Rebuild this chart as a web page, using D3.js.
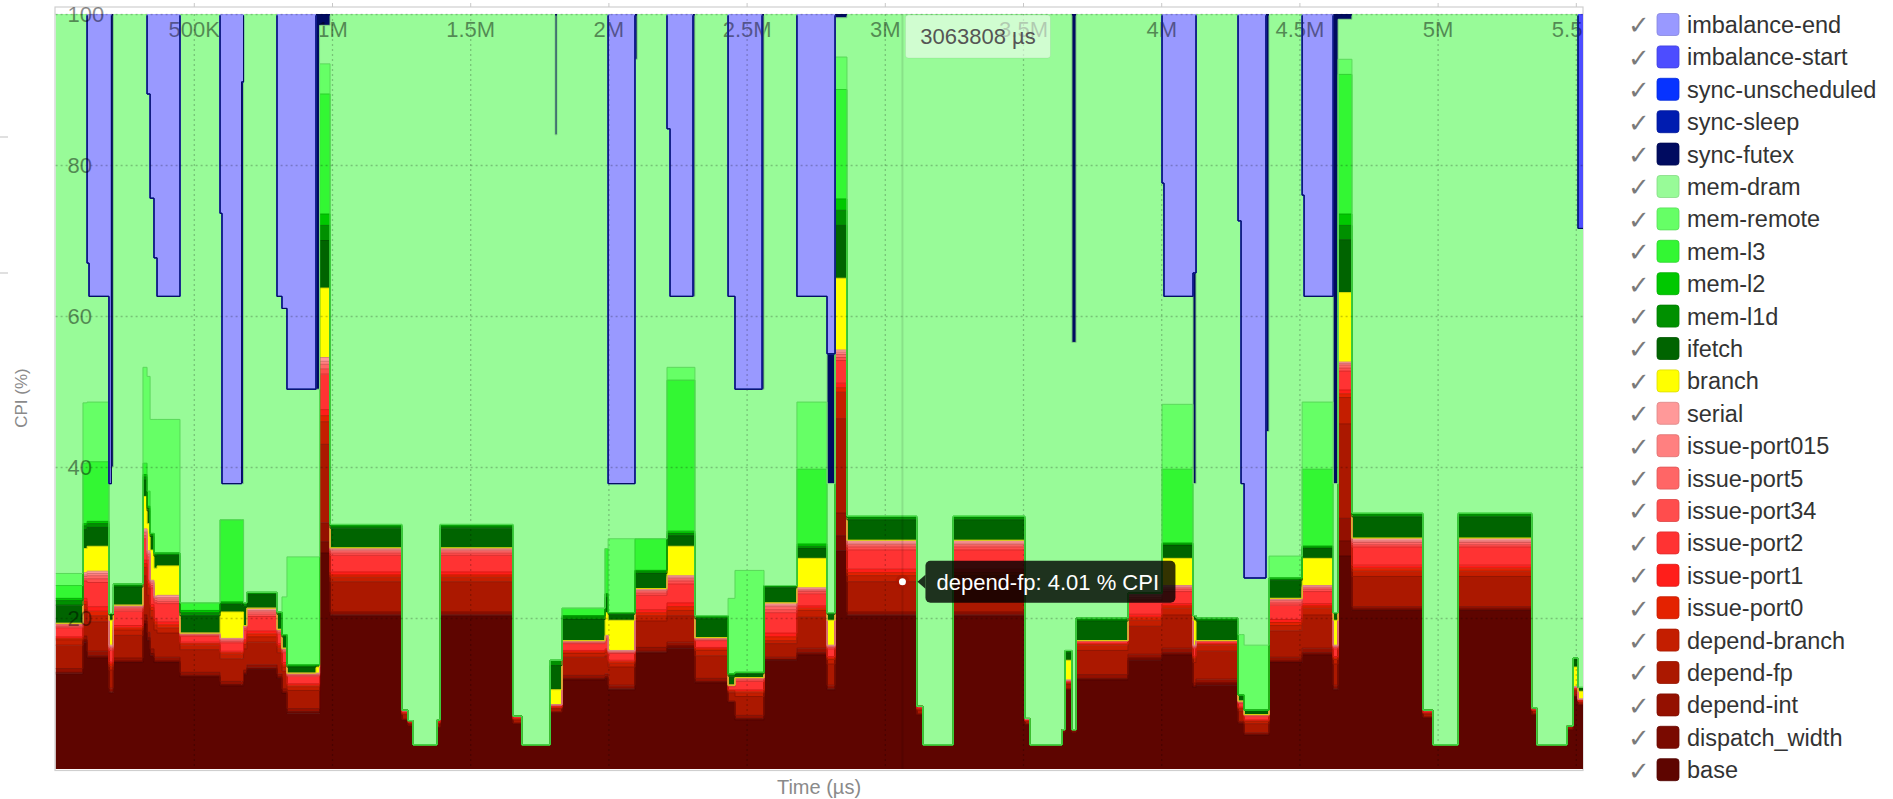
<!DOCTYPE html>
<html>
<head>
<meta charset="utf-8">
<script src="https://cdn.jsdelivr.net/npm/d3@7"></script>
<style>
  body { margin: 0; background: #fff; }
  svg { display: block; font-family: "Liberation Sans", Arial, sans-serif; }
</style>
</head>
<body>
<svg id="chart" width="1893" height="799"></svg>
<script>
// phase start times (K µs) of the sampled run, last phase ends at END_K
const segStartK = [0, 99, 114, 121, 193, 202, 209, 316, 331, 342,
  356, 367, 450, 595, 602, 673, 680, 692, 801, 819,
  837, 942, 955, 993, 1253, 1275, 1293, 1380, 1391, 1655,
  1687, 1789, 1807, 1814, 1832, 1988, 1999, 2096, 2104, 2212,
  2223, 2306, 2313, 2433, 2458, 2556, 2563, 2682, 2791, 2820,
  2863, 3116, 3138, 3247, 3507, 3525, 3641, 3652, 3677, 3692,
  3880, 4003, 4010, 4115, 4126, 4278, 4289, 4300, 4379, 4390,
  4510, 4517, 4622, 4640, 4690, 4947, 4983, 5074, 5341, 5359,
  5468, 5490, 5508];
const END_K = 5526;

// CPI stack components (% of CPI) per phase
const base = [12.6, 16.8, 14.7, 14.7, 10.1, 10.1, 14.1, 19.2, 17, 15,
  14.1, 14.1, 12.2, 11, 11, 11, 12.5, 13.2, 12, 10,
  7.4, 7.4, 28.6, 20.3, 6.5, 5.8, 3.2, 5.5, 20.3, 6,
  3.2, 7.5, 7.5, 7.5, 11.8, 12, 10.5, 15.4, 15.4, 16,
  16, 16, 11.4, 8.8, 6.5, 6.5, 14.4, 15.1, 10.5, 28.9,
  20.3, 7.2, 3.2, 20.3, 5.9, 3.2, 4.9, 10.5, 4.9, 11.8,
  14.4, 15.1, 15.1, 10.8, 11.1, 6, 6, 4.5, 4.5, 14.1,
  15.1, 15.1, 10.5, 28.2, 21, 6.8, 3.2, 21, 7.2, 3.2,
  5.2, 9.6, 8.5];
const dispatchWidth = [.2, .3, .3, .3, .2, .2, .2, .4, .4, .3,
  .2, .2, .2, .2, .2, .2, .2, .2, .2, .2,
  .2, .2, 1.5, .2, 0, 0, 0, 0, .2, 0,
  0, 0, 0, 0, .2, .2, .2, .2, .2, .3,
  .3, .3, .2, .1, .2, .2, .1, .3, .2, 2,
  .2, 0, 0, .2, 0, 0, 0, 0, 0, .2,
  .3, .3, .3, .2, .3, .1, .1, .1, .1, .2,
  .3, .3, .2, 2, .2, 0, 0, .2, 0, 0,
  0, 0, 0];
const dependInt = [.5, .5, .6, .6, .4, .4, .4, .8, .7, .6,
  .5, .5, .4, .4, .4, .4, .4, .4, .4, .4,
  .4, .4, 2.5, .3, .1, 0, 0, .1, .3, .1,
  0, .1, .1, .1, .4, .4, .4, .5, .5, .5,
  .5, .5, .4, .1, .4, .4, .3, .6, .4, 3,
  .3, .1, 0, .3, .1, 0, 0, .1, 0, .5,
  .5, .6, .6, .4, .5, .2, .2, .2, .2, .5,
  .6, .6, .4, 3, .3, .1, 0, .3, .1, 0,
  .1, .1, .1];
const dependFp = [3.1, 3.5, 3.9, 3.9, 2.4, 2.4, 3.0, 5.2, 4.9, 4.2,
  3.6, 3.2, 3.0, 3.0, 3.0, 3.0, 2.8, 3.0, 2.8, 2.4,
  2.4, 2.4, 10.4, 4.0, .6, .3, 0, .4, 4.0, .4,
  0, .4, .4, .4, 2.4, 2.4, 2.4, 3.5, 3.5, 3.5,
  3.5, 3.5, 3.0, 1.1, 2.5, 2.5, 1.8, 4.1, 2.8, 12.5,
  4.01, .5, 0, 4.01, .3, 0, .2, .6, .2, 3.2,
  3.7, 4.4, 4.4, 2.7, 3.7, 1.4, 1.4, 1.2, 1.2, 3.5,
  4.4, 4.4, 2.8, 12.5, 4.0, .4, 0, 4.0, .4, 0,
  .3, .6, .3];
const dependBranch = [.7, .7, .8, .8, .5, .5, .7, 1.1, 1.0, .9,
  .7, .7, .6, .6, .6, .6, .6, .7, .6, .5,
  .5, .5, 3.0, .6, .1, .1, 0, .1, .6, .1,
  0, .1, .1, .1, .5, .5, .5, .7, .7, .7,
  .7, .7, .7, .2, .5, .5, .4, .9, .6, 3.5,
  .8, .1, 0, .8, .1, 0, .1, .1, .1, .7,
  .8, .9, .9, .5, .8, .3, .3, .3, .3, .7,
  .9, .9, .6, 3.5, .7, .1, 0, .7, .1, 0,
  .1, .1, .1];
const issuePort0 = [.2, .4, .6, .6, .3, .3, .3, .5, .5, .4,
  .4, .4, .2, .2, .2, .2, .3, .4, .3, .3,
  .2, .2, .8, .3, .1, 0, 0, .1, .3, .1,
  0, .1, .1, .1, .2, .2, .2, .4, .4, .5,
  .5, .5, .2, .1, .2, .2, .5, .3, .2, .6,
  .4, .1, 0, .4, 0, 0, 0, .1, 0, .1,
  .4, .3, .3, .2, .1, .1, .1, .1, .1, .4,
  .3, .3, .2, .5, .4, .1, 0, .4, 0, 0,
  0, .1, 0];
const issuePort1 = [.2, .4, .6, .6, .3, .3, .3, .5, .5, .4,
  .4, .4, .2, .2, .2, .2, .3, .4, .3, .3,
  .2, .2, .8, .4, .1, 0, 0, 0, .4, 0,
  0, 0, 0, 0, .2, .2, .2, .4, .4, .5,
  .5, .5, .2, .1, .2, .2, .5, .3, .2, .6,
  .5, 0, 0, .5, 0, 0, 0, .1, 0, .1,
  .4, .3, .3, .2, .1, .1, .1, .1, .1, .4,
  .3, .3, .2, .5, .4, 0, 0, .4, 0, 0,
  0, .1, 0];
const issuePort2 = [1.2, 2.3, 3.2, 3.2, 1.5, 1.5, 1.9, 2.8, 2.7, 2.2,
  2.1, 2.4, .8, 1.1, 1.1, 1.1, 1.3, 1.9, 1.3, 1.3,
  1.0, 1.0, 4.7, 2.2, .2, .2, 0, .2, 2.2, .2,
  0, .2, .2, .2, .9, 1.2, .9, 1.9, 1.9, 2.5,
  2.5, 2.5, .9, .4, 1.1, 1.1, 2.7, 1.6, 1.0, 3.0,
  2.5, .2, 0, 2.5, .2, 0, 0, .2, 0, .3,
  1.9, 1.6, 1.6, 1.0, .3, .5, .5, .5, .5, 1.9,
  1.6, 1.6, 1.0, 2.5, 2.4, .2, 0, 2.4, .2, 0,
  0, .2, .2];
const issuePort34 = [.2, .3, .5, .5, .2, .2, .3, .4, .4, .3,
  .3, .3, .1, .2, .2, .2, .2, .3, .2, .2,
  .1, .1, .7, .3, 0, 0, 0, .1, .3, .1,
  0, .1, .1, .1, .1, .2, .1, .3, .3, .4,
  .4, .4, .1, .1, .2, .2, .4, .3, .2, .4,
  .4, .1, 0, .4, 0, 0, 0, 0, 0, .1,
  .3, .3, .3, .1, .1, .1, .1, .1, .1, .3,
  .3, .3, .2, .4, .3, .1, 0, .3, 0, 0,
  0, 0, 0];
const issuePort5 = [.2, .3, .4, .4, .2, .2, .2, .4, .3, .3,
  .3, .3, .1, .2, .2, .2, .2, .3, .2, .2,
  .1, .1, .6, .3, 0, 0, 0, 0, .3, 0,
  0, 0, 0, 0, .1, .2, .1, .3, .3, .3,
  .3, .3, .1, .1, .2, .2, .4, .2, .1, .4,
  .3, 0, 0, .3, 0, 0, 0, 0, 0, 0,
  .3, .2, .2, .1, 0, .1, .1, .1, .1, .3,
  .2, .2, .1, .4, .3, 0, 0, .3, 0, 0,
  0, 0, 0];
const issuePort015 = [.1, .2, .3, .3, .1, .1, .1, .2, .2, .2,
  .1, .2, .1, .1, .1, .1, .1, .2, .1, .1,
  .1, .1, .4, .2, 0, 0, 0, 0, .2, 0,
  0, 0, 0, 0, .1, .1, .1, .1, .1, .2,
  .2, .2, .1, 0, .1, .1, .2, .1, .1, .3,
  .2, 0, 0, .2, 0, 0, 0, 0, 0, 0,
  .1, .1, .1, .1, 0, 0, 0, 0, 0, .1,
  .1, .1, .1, .2, .2, 0, 0, .2, 0, 0,
  0, 0, 0];
const serial = [.1, .3, .3, .3, .2, .2, .2, .3, .3, .2,
  .2, .3, .1, .1, .1, .1, .1, .3, .1, .1,
  .1, .1, .5, .1, .1, 0, 0, 0, .1, 0,
  0, 0, 0, 0, .1, .1, .1, .2, .2, .2,
  .2, .2, .1, 0, 0, 0, .3, .2, .1, .3,
  .3, 0, 0, .3, .1, 0, 0, .1, 0, 0,
  .2, .2, .2, .1, 0, .1, .1, 0, 0, .2,
  .2, .2, .1, .2, .3, 0, 0, .3, .1, 0,
  0, .1, .1];
const branch = [0, 3.2, 3.3, 3.3, 3.3, 3.3, 0, 4.3, 3.6, 4,
  3.7, 3.9, 0, 3.5, 3.5, 3.5, 0, 0, 0, 0,
  0, .8, 9.2, .1, 0, 0, 0, 0, .1, 0,
  0, 2, 2, 2, 0, 3, 4, 0, 0, 3.9,
  3.9, 3.9, 0, 0, 0, 0, 0, 3.9, 3.3, 9.5,
  .1, 0, 0, .1, 0, 0, 0, 2.6, 0, 0,
  0, 3.6, 3.6, 3.3, 0, 0, 0, 0, 0, 0,
  3.6, 3.6, 3.3, 9.2, .1, 0, 0, .1, 0, 0,
  0, 2.6, 1];
const ifetch = [2.4, 2.5, 2.5, 2.5, .7, .7, 2.4, 2.2, 1.7, 1.8,
  1.6, 1.4, 2.3, 1, 1, 1, 2.5, 1.8, 2, 1.5,
  .8, .3, 6.3, 2.6, 0, 0, 0, 0, 2.6, 0,
  0, 3.2, 3.2, 3.2, 2.8, 2, .8, 2, 2, 1.4,
  1.4, 1.4, 2.5, 1.2, .5, .5, 2, 1.3, .8, 7,
  2.7, 0, 0, 2.7, 0, 0, 0, 1, 0, 2.6,
  0, 1.7, 1.7, .6, 2.6, .8, .8, .6, .6, 2.4,
  1.3, 1.3, 1, 7, 2.8, 0, 0, 2.8, 0, 0,
  0, 1.2, .5];
const memL1d = [.6, .5, .5, .5, .2, .2, .4, .4, .3, .4,
  .4, .3, .4, .3, .3, .3, .5, .3, .3, .3,
  .3, 0, 2, .3, 0, 0, 0, 0, .3, 0,
  0, .7, .7, .7, .5, .5, .2, .4, .4, .3,
  .3, .3, .4, .3, .2, .2, .3, .3, .2, 2,
  .3, 0, 0, .3, 0, 0, 0, .3, 0, .4,
  0, .3, .3, 0, .4, 0, 0, 0, 0, .3,
  .3, .3, 0, 1.9, .3, 0, 0, .3, 0, 0,
  0, 0, 0];
const memL2 = [.3, .3, .3, .3, 0, 0, 0, .3, .3, 0,
  0, 0, .3, 0, 0, 0, 0, 0, 0, 0,
  0, 0, 1.5, .1, 0, 0, 0, 0, .1, 0,
  0, 0, 0, 0, 0, 0, 0, 0, 0, .3,
  .3, .3, 0, 0, 0, 0, 0, .3, 0, 1.5,
  .1, 0, 0, .1, 0, 0, 0, 0, 0, 0,
  0, 0, 0, 0, 0, 0, 0, 0, 0, 0,
  0, 0, 0, 1.5, .1, 0, 0, .1, 0, 0,
  0, 0, 0];
const memL3 = [1.7, 8, 7.9, 7.9, 0, 0, 0, 1.5, 2, 0,
  0, 0, 1, 10.9, 10.9, 10.9, 0, 0, 0, 0,
  0, 0, 15.9, .1, 0, 0, 0, 0, .1, 0,
  0, 0, 0, 0, 1, 6, 0, 4.2, 4.2, 20,
  20, 20, 0, 0, 0, 0, 0, 9.9, 0, 14.5,
  .1, 0, 0, .1, 0, 0, 0, 0, 0, 0,
  0, 9.8, 9.8, 0, 0, 0, 0, 0, 0, 0,
  10.2, 10.2, 0, 18.5, .1, 0, 0, .1, 0, 0,
  0, 0, 0];
const memRemote = [1.6, 8, 7.9, 7.9, 0, 0, 0, 12.7, 15.2, 15.1,
  17.7, 17.7, 0, 0, 0, 0, 0, 0, 0, 5,
  14.3, 14.3, 4, 0, 0, 0, 0, 0, 0, 0,
  0, 0, 0, 0, 0, 0, 9.8, 0, 0, 1.7,
  1.7, 1.7, 0, 10, 13.5, 13.5, 0, 8.9, 0, 4.3,
  0, 0, 0, 0, 0, 0, 0, 0, 0, 0,
  0, 8.6, 8.6, 0, 0, 8, 8, 8.6, 8.6, 2.9,
  8.9, 8.9, 0, 2, 0, 0, 0, 0, 0, 0,
  0, 0, 0];
const memDram = [74.1, 51.5, 18.4, 14, 17.2, 19.4, 75.5, 46.8, 37.4, 29.3,
  21.4, 16.3, 78, 40.6, 4.8, 4.8, 78, 76.6, 41.8, 38.2,
  22.2, 22.2, 5.1, 67.6, 92.2, 93.6, 96.8, 93.5, 67.6, 93,
  96.8, 85.6, 69.6, 85.6, 78.7, 70.8, 7.3, 63.5, 69.5, 31.6,
  9.4, 9.4, 79.7, 40, 24, 24, 75.7, 14, 17.1, 5.2,
  66.49, 91.7, 96.8, 66.49, 93.3, 96.8, 94.8, 84.3, 51.3, 80,
  76.7, 29.3, 14.3, 17.5, 80, 54.8, 20, 8.9, 28.3, 71.8,
  27.4, 14, 17.1, 5.3, 66.1, 92.2, 96.8, 66.1, 91.9, 96.8,
  94.3, 85.3, 60.8];
const syncFutex = [0, 0, 0, 0, 0, 60, 0, 0, 0, 0,
  0, 0, 0, 0, 0, 53.2, 0, 0, 0, 0,
  0, 49.7, 1.5, 0, 0, 0, 0, 0, 0, 0,
  0, 0, 16, 0, 0, 0, 0, 6, 0, 0,
  0, 37.4, 0, 0, 0, 49.7, 0, 0, 17.2, .5,
  0, 0, 0, 0, 0, 0, 0, 0, 43.5, 0,
  0, 0, 0, 27.9, 0, 0, 0, 0, 55.3, 0,
  0, 0, 62.2, .7, 0, 0, 0, 0, 0, 0,
  0, 0, 0];
const syncSleep = [0, 0, 0, 0, 0, 0, 0, 0, 0, 0,
  0, 0, 0, 0, 0, 0, 0, 0, 0, 0,
  0, 0, 0, 0, 0, 0, 0, 0, 0, 0,
  0, 0, 0, 0, 0, 0, 0, 0, 0, 0,
  0, 0, 0, 0, 0, 0, 0, 0, 0, 0,
  0, 0, 0, 0, 0, 0, 0, 0, 0, 0,
  0, 0, 0, 0, 0, 0, 0, 0, 0, 0,
  0, 0, 0, 0, 0, 0, 0, 0, 0, 0,
  0, 0, 0];
const syncUnscheduled = [0, 0, 0, 0, 0, 0, 0, 0, 0, 0,
  0, 0, 0, 0, 0, 0, 0, 0, 0, 0,
  0, 0, 0, 0, 0, 0, 0, 0, 0, 0,
  0, 0, 0, 0, 0, 0, 0, 0, 0, 0,
  0, 0, 0, 0, 0, 0, 0, 0, 0, 0,
  0, 0, 0, 0, 0, 0, 0, 0, 0, 0,
  0, 0, 0, 0, 0, 0, 0, 0, 0, 0,
  0, 0, 0, 0, 0, 0, 0, 0, 0, 0,
  0, 0, 0];
const imbalanceStart = [0, 0, 0, 0, 0, 0, 0, 0, 0, 0,
  0, 0, 0, 0, 0, 0, 0, 0, 0, 0,
  0, 0, 0, 0, 0, 0, 0, 0, 0, 0,
  0, 0, 0, 0, 0, 0, 0, 0, 0, 0,
  0, 0, 0, 0, 0, 0, 0, 0, 0, 0,
  0, 0, 0, 0, 0, 0, 0, 0, 0, 0,
  0, 0, 0, 0, 0, 0, 0, 0, 0, 0,
  0, 0, 0, 0, 0, 0, 0, 0, 0, 0,
  0, 0, 28.4];
const imbalanceEnd = [0, 0, 33, 37.4, 62.2, 0, 0, 0, 10.6, 24.4,
  32.3, 37.4, 0, 26.4, 62.2, 9, 0, 0, 37.4, 39,
  49.7, 0, 0, 0, 0, 0, 0, 0, 0, 0,
  0, 0, 0, 0, 0, 0, 62.2, 0, 0, 15.2,
  37.4, 0, 0, 37.4, 49.7, 0, 0, 37.4, 45, 0,
  0, 0, 0, 0, 0, 0, 0, 0, 0, 0,
  0, 22.4, 37.4, 34.3, 0, 27.4, 62.2, 74.7, 0, 0,
  24, 37.4, 0, 0, 0, 0, 0, 0, 0, 0,
  0, 0, 0];

const xTicks = [500000, 1000000, 1500000, 2000000, 2500000, 3000000,
  3500000, 4000000, 4500000, 5000000, 5500000];
const xTickLabels = ["500K", "1M", "1.5M", "2M", "2.5M", "3M",
  "3.5M", "4M", "4.5M", "5M", "5.5M"];
const yTicks = [20, 40, 60, 80, 100];
const HOVER_T = 3063808;
const HOVER_KEY = "depend-fp";

// stack order, bottom first
const SERIES = [
  { key: "base", values: base, color: "#5e0500" },
  { key: "dispatch_width", values: dispatchWidth, color: "#7a0a00" },
  { key: "depend-int", values: dependInt, color: "#941000" },
  { key: "depend-fp", values: dependFp, color: "#ab1800" },
  { key: "depend-branch", values: dependBranch, color: "#c41e00" },
  { key: "issue-port0", values: issuePort0, color: "#e42200" },
  { key: "issue-port1", values: issuePort1, color: "#ff1e1a" },
  { key: "issue-port2", values: issuePort2, color: "#ff3333" },
  { key: "issue-port34", values: issuePort34, color: "#ff4d4d" },
  { key: "issue-port5", values: issuePort5, color: "#ff6666" },
  { key: "issue-port015", values: issuePort015, color: "#ff8080" },
  { key: "serial", values: serial, color: "#ff9999" },
  { key: "branch", values: branch, color: "#ffff00" },
  { key: "ifetch", values: ifetch, color: "#006400" },
  { key: "mem-l1d", values: memL1d, color: "#009000" },
  { key: "mem-l2", values: memL2, color: "#00c800" },
  { key: "mem-l3", values: memL3, color: "#33f733" },
  { key: "mem-remote", values: memRemote, color: "#66ff66" },
  { key: "mem-dram", values: memDram, color: "#98fb98" },
  { key: "sync-futex", values: syncFutex, color: "#000b60" },
  { key: "sync-sleep", values: syncSleep, color: "#001cb0" },
  { key: "sync-unscheduled", values: syncUnscheduled, color: "#0733ff" },
  { key: "imbalance-start", values: imbalanceStart, color: "#4d4dff" },
  { key: "imbalance-end", values: imbalanceEnd, color: "#9999ff" }
];

const LAYOUT = { width: 1893, height: 799 };
const PLOT = { left: 55.6, right: 1583, top: 14, bottom: 769 };
const FONT = "'Liberation Sans', Arial, sans-serif";

const svg = d3.select("#chart");

const x = d3.scaleLinear().domain([0, END_K * 1000]).range([PLOT.left, PLOT.right]);
const y = d3.scaleLinear().domain([0, 100]).range([PLOT.bottom, PLOT.top]);

// rows: one per phase, plus a closing row at the end time
const keys = SERIES.map(s => s.key);
const rows = segStartK.map((t, i) => {
  const row = { t: t * 1000 };
  SERIES.forEach(s => { row[s.key] = s.values[i]; });
  return row;
});
rows.push(Object.assign({}, rows[rows.length - 1], { t: END_K * 1000 }));

const stacked = d3.stack().keys(keys)(rows);
const colorOf = d3.scaleOrdinal().domain(keys).range(SERIES.map(s => s.color));

const defs = svg.append("defs");
defs.append("clipPath").attr("id", "plotClip")
  .append("rect")
  .attr("x", PLOT.left).attr("y", PLOT.top)
  .attr("width", PLOT.right - PLOT.left).attr("height", PLOT.bottom - PLOT.top);
defs.append("clipPath").attr("id", "lineClip")
  .append("rect")
  .attr("x", PLOT.left).attr("y", PLOT.top + 1.5)
  .attr("width", PLOT.right - PLOT.left).attr("height", PLOT.bottom - PLOT.top - 1.5);

// frame
svg.append("rect")
  .attr("x", 55).attr("y", 7)
  .attr("width", PLOT.right - 55).attr("height", PLOT.bottom + 1.5 - 7)
  .attr("fill", "none").attr("stroke", "#cfcfcf").attr("stroke-width", 1.2);
svg.append("g")
  .attr("transform", "translate(0, 7)")
  .call(d3.axisTop(x).tickValues(xTicks).tickSize(4).tickFormat(""))
  .call(g => g.select(".domain").remove())
  .call(g => g.selectAll("line").attr("stroke", "#c8c8c8"));
svg.append("g").selectAll("line").data([137, 273]).join("line")
  .attr("x1", 0).attr("x2", 8).attr("y1", d => d).attr("y2", d => d)
  .attr("stroke", "#d6d6d6").attr("stroke-width", 1.5);

// areas
const area = d3.area()
  .x(d => x(d.data.t))
  .y0(d => y(d[0]))
  .y1(d => y(d[1]))
  .curve(d3.curveStepAfter);
const line = d3.line()
  .x(d => x(d.data.t))
  .y(d => y(d[1]))
  .curve(d3.curveStepAfter);

const plot = svg.append("g").attr("clip-path", "url(#plotClip)");
plot.append("g").selectAll("path").data(stacked).join("path")
  .attr("fill", d => colorOf(d.key))
  .attr("d", area);

// series outlines; the futex outline goes last so purple blocks keep a navy edge
const strokeOrder = stacked.filter(l => l.key !== "sync-futex")
  .concat(stacked.filter(l => l.key === "sync-futex"));
svg.append("g").attr("clip-path", "url(#lineClip)")
  .selectAll("path").data(strokeOrder).join("path")
  .attr("fill", "none")
  .attr("stroke", d => d3.interpolateRgb(colorOf(d.key), "black")(0.15))
  .attr("stroke-width", 1)
  .attr("d", line);

// grid
const gridStyle = g => g.selectAll("line")
  .attr("stroke", "rgba(0,0,0,0.22)")
  .attr("stroke-width", 1.3)
  .attr("stroke-dasharray", "2,3");
plot.append("g")
  .attr("transform", `translate(0, ${PLOT.top})`)
  .call(d3.axisBottom(x).tickValues(xTicks).tickSize(PLOT.bottom - PLOT.top).tickFormat(""))
  .call(g => g.select(".domain").remove())
  .call(gridStyle);
svg.append("g")
  .attr("transform", `translate(${PLOT.left}, 0)`)
  .call(d3.axisLeft(y).tickValues(yTicks).tickSize(-(PLOT.right - PLOT.left)).tickFormat(""))
  .call(g => g.select(".domain").remove())
  .call(gridStyle);

// tick labels inside the plot
plot.append("g")
  .attr("transform", `translate(0, ${PLOT.top})`)
  .call(d3.axisBottom(x).tickValues(xTicks).tickSize(0).tickPadding(7)
    .tickFormat((_, i) => xTickLabels[i]))
  .call(g => g.select(".domain").remove())
  .call(g => g.selectAll("text")
    .attr("font-family", FONT).attr("font-size", 22)
    .attr("fill", "#000").attr("opacity", 0.45));
svg.append("g")
  .attr("transform", `translate(${PLOT.left}, 0)`)
  .call(d3.axisRight(y).tickValues(yTicks).tickSize(0).tickPadding(12))
  .call(g => g.select(".domain").remove())
  .call(g => g.selectAll("text")
    .attr("font-family", FONT).attr("font-size", 22)
    .attr("fill", "#000").attr("opacity", 0.45));

// axis titles
svg.append("text")
  .text("CPI (%)")
  .attr("transform", "translate(27, 398) rotate(-90)")
  .attr("text-anchor", "middle")
  .attr("font-family", FONT).attr("font-size", 17)
  .attr("fill", "#8a8a8a");
svg.append("text")
  .text("Time (µs)")
  .attr("x", 819).attr("y", 794)
  .attr("text-anchor", "middle")
  .attr("font-family", FONT).attr("font-size", 20)
  .attr("fill", "#8a8a8a");

// hover detail
const hx = x(HOVER_T);
const hIdx = d3.bisectRight(segStartK.map(t => t * 1000), HOVER_T) - 1;
const hLayer = stacked.find(l => l.key === HOVER_KEY);
const hVal = SERIES.find(s => s.key === HOVER_KEY).values[hIdx];
const hy = y(hLayer[hIdx][1]);

svg.append("line")
  .attr("x1", hx).attr("x2", hx).attr("y1", PLOT.top).attr("y2", PLOT.bottom)
  .attr("stroke", "rgba(0,0,0,0.1)").attr("stroke-width", 2);
svg.append("rect")
  .attr("x", hx + 3).attr("y", PLOT.top + 1)
  .attr("width", 145).attr("height", 43).attr("rx", 3)
  .attr("fill", "rgba(255,255,255,0.55)")
  .attr("stroke", "rgba(0,0,0,0.06)");
svg.append("text")
  .text(`${HOVER_T} µs`)
  .attr("x", hx + 3 + 72.5).attr("y", PLOT.top + 30)
  .attr("text-anchor", "middle")
  .attr("font-family", FONT).attr("font-size", 22)
  .attr("fill", "#555");

svg.append("circle").attr("cx", hx).attr("cy", hy).attr("r", 7)
  .attr("fill", "rgba(170,20,0,0.55)");
svg.append("circle").attr("cx", hx).attr("cy", hy).attr("r", 3.5)
  .attr("fill", "#fff");

const tipX = hx + 23;
const tip = svg.append("g").attr("transform", `translate(${tipX}, ${hy - 21})`);
tip.append("path")
  .attr("d", "M-8,21 L0,14 L0,28 Z")
  .attr("fill", "rgba(0,0,0,0.8)");
tip.append("rect")
  .attr("width", 250).attr("height", 42).attr("rx", 5)
  .attr("fill", "rgba(0,0,0,0.8)");
tip.append("text")
  .text(`${HOVER_KEY}: ${hVal.toFixed(2)} % CPI`)
  .attr("x", 11).attr("y", 29)
  .attr("font-family", FONT).attr("font-size", 22)
  .attr("fill", "#fff");

// legend (top of stack first)
const legend = svg.append("g")
  .selectAll("g")
  .data(SERIES.slice().reverse())
  .join("g")
  .attr("transform", (_, i) => `translate(0, ${24.5 + i * 32.4})`);
legend.append("text")
  .text("\u2713")
  .attr("x", 1628).attr("dy", "0.38em")
  .attr("font-family", "'DejaVu Sans', sans-serif").attr("font-size", 26)
  .attr("fill", "#7a7a7a");
legend.append("rect")
  .attr("x", 1657).attr("y", -11)
  .attr("width", 22).attr("height", 22).attr("rx", 3)
  .attr("fill", d => d.color)
  .attr("stroke", d => d3.color(d.color).darker(0.4))
  .attr("stroke-width", 0.8);
legend.append("text")
  .text(d => d.key)
  .attr("x", 1687).attr("dy", "0.36em")
  .attr("font-family", FONT).attr("font-size", 23.5)
  .attr("fill", "#333");
</script>
</body>
</html>
